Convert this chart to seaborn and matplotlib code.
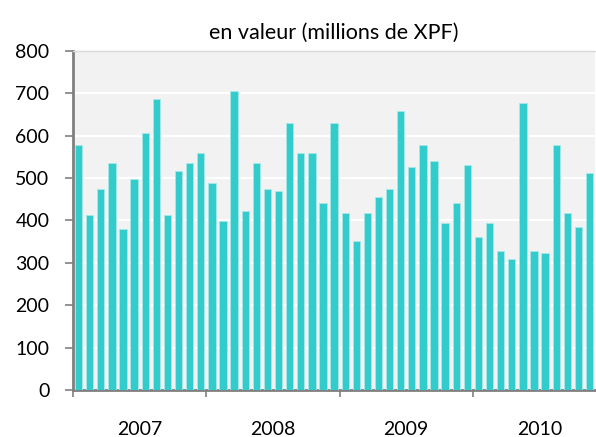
import numpy as np
import pandas as pd
import matplotlib
matplotlib.use("Agg")
import matplotlib.pyplot as plt
import seaborn as sns

# ── Data ─────────────────────────────────────────────────────
years = ["2007", "2008", "2009", "2010"]
values_2007 = [578, 413, 474, 536, 380, 498, 607, 687, 413, 517, 536, 559]
values_2008 = [489, 399, 706, 423, 536, 474, 470, 630, 559, 559, 441, 630]
values_2009 = [418, 352, 418, 456, 474, 659, 526, 578, 541, 394, 441, 531]
values_2010 = [361, 394, 328, 309, 677, 328, 323, 578, 418, 385, 512]

values = values_2007 + values_2008 + values_2009 + values_2010
months = [f"{y}-{m:02d}" for y, vals in zip(years, [values_2007, values_2008, values_2009, values_2010])
          for m in range(1, len(vals) + 1)]
df = pd.DataFrame({"mois": months, "valeur": values})

# ── Plot ─────────────────────────────────────────────────────
sns.set_style("white")
plt.rcParams["font.family"] = ["Lato", "DejaVu Sans"]
plt.rcParams["text.color"] = "black"
plt.rcParams["xtick.color"] = "black"
plt.rcParams["ytick.color"] = "black"

fig = plt.figure(figsize=(5.96, 4.37), dpi=100)
ax = fig.add_axes([0.1225, 0.1076, 0.876, 0.7757])
ax.set_facecolor("#f2f2f2")

sns.barplot(data=df, x="mois", y="valeur", color="#33CCCC", saturation=1,
            width=0.66, edgecolor="#a8e8e8", linewidth=0.6, ax=ax, zorder=3)

ax.set_ylim(0, 800)
ax.set_xlim(-0.5, len(values) - 0.5)
ax.set_yticks(np.arange(0, 801, 100))
ax.yaxis.grid(True, color="white", linewidth=1.6, zorder=0)
ax.set_axisbelow(True)

# year boundaries as major ticks, year labels centred as minor ticks
starts = np.cumsum([0, 12, 12, 12]) - 0.5
ax.set_xticks(starts)
ax.set_xticklabels([])
ax.set_xticks(starts + 6, minor=True)
ax.set_xticklabels(years, minor=True)
ax.tick_params(axis="x", which="major", length=5, width=1.2, color="#808080",
               direction="out", bottom=True)
ax.tick_params(axis="x", which="minor", length=0, pad=22, labelsize=14)
ax.tick_params(axis="y", length=6, width=1.2, color="#808080", direction="out",
               left=True, labelsize=14, pad=11)

for side in ["left", "bottom"]:
    ax.spines[side].set_color("#808080")
    ax.spines[side].set_linewidth(2)
ax.spines["top"].set_color("#d9d9d9")
ax.spines["top"].set_linewidth(1)
ax.spines["right"].set_visible(False)

ax.set_xlabel("")
ax.set_ylabel("")
ax.set_title("en valeur (millions de XPF)", fontsize=15.5, pad=9)

plt.savefig("out.png", dpi=100)
